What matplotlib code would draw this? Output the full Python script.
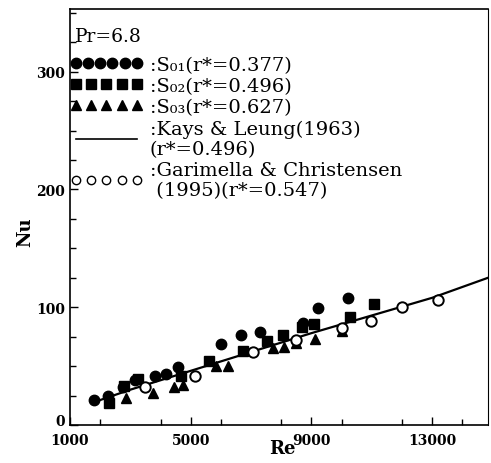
import matplotlib
matplotlib.use("Agg")
import matplotlib.pyplot as plt
from matplotlib.lines import Line2D
from matplotlib.legend_handler import HandlerLine2D
from matplotlib.ticker import MultipleLocator, FixedLocator
from matplotlib.transforms import ScaledTranslation

# S01 (r*=0.377) filled circles
s01_re = [1800, 2250, 2750, 3150, 3800, 4190, 4570, 6010, 6680, 7290, 8720, 9220, 10200]
s01_nu = [21, 25, 32, 38, 42, 43, 49, 69, 76, 79, 87, 99, 108]
# S02 (r*=0.496) filled squares
s02_re = [2300, 2800, 3250, 4680, 5620, 6730, 7510, 8060, 8680, 9090, 10270, 11070]
s02_nu = [19, 33, 39, 42, 54, 63, 71, 76, 83, 86, 91.5, 103]
# S03 (r*=0.627) filled triangles
s03_re = [2860, 3740, 4460, 4740, 5850, 6230, 7730, 8090, 8500, 9110, 10000]
s03_nu = [23, 27, 32, 34, 50, 50, 65, 66, 70, 73, 80]
# Garimella & Christensen (1995) open circles
gc_re = [3470, 5130, 7060, 8500, 10000, 10970, 11990, 13190]
gc_nu = [32, 42, 62, 72, 82, 88, 100, 106]
# Kays & Leung (1963) line
kl_re = [1750, 3000, 5000, 7000, 9000, 11000, 13000, 14850]
kl_nu = [19, 30, 46, 62, 78, 93, 108, 125]

x_ticks = [1000, 5000, 9000, 13000]
y_ticks = [0, 100, 200, 300]

labels = [":S\u2080\u2081(r*=0.377)",
          ":S\u2080\u2082(r*=0.496)",
          ":S\u2080\u2083(r*=0.627)",
          ":Kays & Leung(1963)\n(r*=0.496)",
          ":Garimella & Christensen\n (1995)(r*=0.547)"]

SERIF = ['DejaVu Serif', 'DejaVu Sans']

fig = plt.figure(figsize=(4.91, 4.64), dpi=100)
ax = fig.add_axes([0.1426, 0.0819, 0.994 - 0.1426, 0.978 - 0.0819])

ax.plot(kl_re, kl_nu, color='black', lw=1.6, zorder=2)
ax.plot(s01_re, s01_nu, 'o', color='black', ms=7.5, ls='none', zorder=3)
ax.plot(s02_re, s02_nu, 's', color='black', ms=6.5, ls='none', zorder=3)
ax.plot(s03_re, s03_nu, '^', color='black', ms=7, ls='none', zorder=3)
ax.plot(gc_re, gc_nu, 'o', mfc='white', mec='black', mew=1.4, ms=7.5, ls='none', zorder=4)

ax.set_xlim(1000, 14850)
ax.set_ylim(0, 353)
ax.xaxis.set_major_locator(FixedLocator(x_ticks))
ax.xaxis.set_minor_locator(MultipleLocator(2000))
ax.yaxis.set_major_locator(FixedLocator(y_ticks))
ax.yaxis.set_minor_locator(MultipleLocator(25))
ax.tick_params(which='both', direction='in', top=False, right=False, width=1.0)
ax.tick_params(which='major', length=6)
ax.tick_params(which='minor', length=4)
ax.tick_params(axis='x', which='major', pad=6)
for lab in ax.get_xticklabels() + ax.get_yticklabels():
    lab.set_fontfamily('DejaVu Serif')
    lab.set_fontweight('bold')
    lab.set_fontsize(10)
# lift the "0" label slightly, as in the reference
ylabs = ax.get_yticklabels()
ylabs[0].set_transform(ylabs[0].get_transform() + ScaledTranslation(0, 4 / 72, fig.dpi_scale_trans))
for s in ax.spines.values():
    s.set_linewidth(1.2)
ax.spines['right'].set_linewidth(0.8)

ax.set_xlabel('Re', fontfamily='DejaVu Serif', fontweight='bold', fontsize=13)
ax.xaxis.label.set_va('center')
ax.xaxis.set_label_coords(0.508, -0.056)
ax.set_ylabel('Nu', fontfamily='DejaVu Serif', fontweight='bold', fontsize=13)
ax.yaxis.label.set_va('center')
ax.yaxis.set_label_coords(-0.107, 0.467)

ax.text(0.012, 0.935, 'Pr=6.8', transform=ax.transAxes, fontfamily='DejaVu Serif',
        fontsize=13.5, va='center', ha='left')

h1 = Line2D([], [], marker='o', color='black', ls='none', ms=7.5)
h2 = Line2D([], [], marker='s', color='black', ls='none', ms=6.5)
h3 = Line2D([], [], marker='^', color='black', ls='none', ms=7)
h4 = Line2D([], [], color='black', lw=1.2)
h5 = Line2D([], [], marker='o', mfc='white', mec='black', mew=1.0, ls='none', ms=6)
leg = ax.legend([h1, h2, h3, h4, h5], labels,
                handler_map={h1: HandlerLine2D(numpoints=6), h2: HandlerLine2D(numpoints=5),
                             h3: HandlerLine2D(numpoints=5), h4: HandlerLine2D(numpoints=2),
                             h5: HandlerLine2D(numpoints=5)},
                loc='upper left', bbox_to_anchor=(-0.005, 0.893), frameon=False,
                prop={'family': SERIF, 'size': 14},
                handlelength=3.75, handletextpad=0.35, labelspacing=0.17, borderpad=0.1,
                borderaxespad=0.0)
for t in leg.get_texts():
    t.set_linespacing(1.15)

fig.savefig('out.png', dpi=100)
